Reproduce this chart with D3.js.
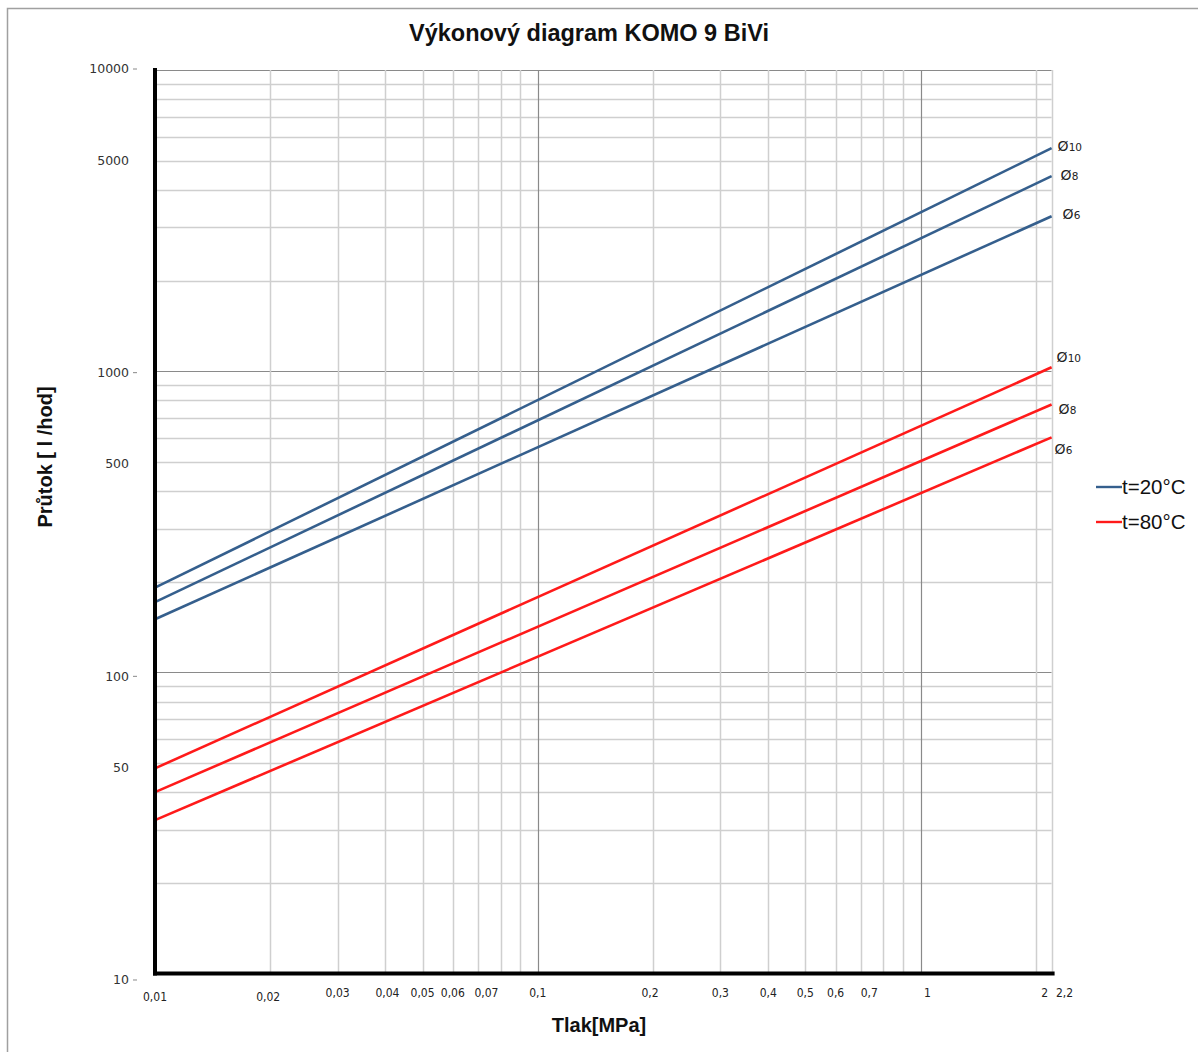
<!DOCTYPE html>
<html>
<head>
<meta charset="utf-8">
<script src="https://cdn.jsdelivr.net/npm/d3@7/dist/d3.min.js"></script>
<style>
    html, body { margin: 0; padding: 0; background: #fff; }
    svg { display: block; }
</style>
</head>
<body>
<div id="chart"></div>
<script>
'use strict';

// pressure [MPa] at the two ends of each line
const pressure = [0.01, 2.2];

// flow [l/hod]
const series = [
    {name: '10', group: 't20', values: [191, 5500]},
    {name: '8',  group: 't20', values: [171, 4440]},
    {name: '6',  group: 't20', values: [150, 3270]},
    {name: '10', group: 't80', values: [48, 1030]},
    {name: '8',  group: 't80', values: [40, 775]},
    {name: '6',  group: 't80', values: [32.3, 603]}
];

const legendItems = [
    {group: 't20', label: 't=20°C'},
    {group: 't80', label: 't=80°C'}
];

const xTickValues = [0.01, 0.02, 0.03, 0.04, 0.05, 0.06, 0.07, 0.1, 0.2, 0.3, 0.4, 0.5, 0.6, 0.7, 1, 2, 2.2];
const xGridValues = [0.02, 0.03, 0.04, 0.05, 0.06, 0.07, 0.08, 0.09, 0.1,
    0.2, 0.3, 0.4, 0.5, 0.6, 0.7, 0.8, 0.9, 1, 2, 2.2];
const yTickValues = [10000, 5000, 1000, 500, 100, 50, 10];
const yMajorValues = [10000, 1000, 100, 10];

const colors = {t20: '#355f8d', t80: '#ff1a1a'};

const conf = {
    width: 1198,
    height: 1052,
    left: 155,
    right: 1051.6,
    top: 70,
    bottom: 973.5
};

// label nudges so the end labels sit where the original had them
const endLabelDy = [-2, -1, -2, -10, 4, 12];
const endLabelDx = [6, 9, 11, 5, 7, 3];
// the original puts a few x labels a bit right of their grid line
const xLabelDx = {0.02: -2, 0.04: 2, 0.07: 8, 0.2: -3, 0.7: 8, 1: 7, 2: 9, 2.2: 13};

function fmt(v) {
    return String(v).replace('.', ',');
}

function draw() {
    let svg = d3.select('#chart').append('svg')
        .attr('width', conf.width)
        .attr('height', conf.height);

    // outer frame of the chart area (only top and left are in view)
    svg.append('rect')
        .attr('x', 7.5).attr('y', 8.5)
        .attr('width', 1300).attr('height', 1200)
        .attr('fill', 'none')
        .attr('stroke', '#a0a0a0')
        .attr('stroke-width', 1.5);

    let x = d3.scaleLog().domain([0.01, 2.2]).range([conf.left, conf.right]);
    let y = d3.scaleLog().domain([10, 10000]).range([conf.bottom, conf.top]);

    let grid = svg.append('g');

    // horizontal grid: every integer multiple within each decade
    let yGrid = y.ticks().filter(function(v) { return v > 10; });
    grid.selectAll('.hgrid')
        .data(yGrid)
        .enter().append('line')
        .attr('x1', conf.left).attr('x2', conf.right)
        .attr('y1', function(d) { return Math.round(y(d)) + 0.5; })
        .attr('y2', function(d) { return Math.round(y(d)) + 0.5; })
        .attr('stroke', function(d) { return yMajorValues.indexOf(d) >= 0 ? '#8a8a8a' : '#cfcfcf'; })
        .attr('stroke-width', function(d) { return yMajorValues.indexOf(d) >= 0 ? 1.2 : 1.5; });

    grid.selectAll('.vgrid')
        .data(xGridValues)
        .enter().append('line')
        .attr('x1', function(d) { return Math.round(x(d)) + 0.5; })
        .attr('x2', function(d) { return Math.round(x(d)) + 0.5; })
        .attr('y1', conf.top).attr('y2', conf.bottom)
        .attr('stroke', function(d) { return (d === 0.1 || d === 1) ? '#8a8a8a' : '#cfcfcf'; })
        .attr('stroke-width', function(d) { return (d === 0.1 || d === 1) ? 1.2 : 1.5; });

    // series lines
    let line = d3.line()
        .x(function(d) { return x(d[0]); })
        .y(function(d) { return y(d[1]); });

    svg.append('g').selectAll('path')
        .data(series)
        .enter().append('path')
        .attr('d', function(s) { return line(d3.zip(pressure, s.values)); })
        .attr('fill', 'none')
        .attr('stroke', function(s) { return colors[s.group]; })
        .attr('stroke-width', 2.6);

    // end labels "Ø10", "Ø8", "Ø6"
    let endLabels = svg.append('g').selectAll('text')
        .data(series)
        .enter().append('text')
        .attr('x', function(s, i) { return x(pressure[1]) + endLabelDx[i]; })
        .attr('y', function(s, i) { return y(s.values[1]) + endLabelDy[i] + 5; })
        .attr('font-family', 'DejaVu Sans, sans-serif')
        .attr('fill', '#222');
    endLabels.append('tspan').attr('font-size', 14).text('Ø');
    endLabels.append('tspan').attr('font-size', 10.5).text(function(s) { return s.name; });

    // axes
    svg.append('line')
        .attr('x1', conf.left).attr('x2', conf.left)
        .attr('y1', conf.top - 2).attr('y2', conf.bottom + 2)
        .attr('stroke', '#000').attr('stroke-width', 4);
    svg.append('line')
        .attr('x1', conf.left - 2).attr('x2', conf.right + 3)
        .attr('y1', conf.bottom).attr('y2', conf.bottom)
        .attr('stroke', '#000').attr('stroke-width', 4);

    // y tick labels; in the original they drift down a little towards the bottom
    function yLabelPos(d) {
        return y(d) - 1 + (y(d) - conf.top) * 0.0083;
    }
    let yLabels = svg.append('g');
    yLabels.selectAll('text')
        .data(yTickValues)
        .enter().append('text')
        .attr('x', 129)
        .attr('y', yLabelPos)
        .attr('dy', '0.35em')
        .attr('text-anchor', 'end')
        .attr('font-family', 'DejaVu Sans, sans-serif')
        .attr('font-size', 12.5)
        .attr('fill', '#333')
        .text(function(d) { return d; });
    yLabels.selectAll('line')
        .data(yMajorValues)
        .enter().append('line')
        .attr('x1', 133).attr('x2', 137)
        .attr('y1', yLabelPos)
        .attr('y2', yLabelPos)
        .attr('stroke', '#888').attr('stroke-width', 1);

    // x tick labels
    svg.append('g').selectAll('text')
        .data(xTickValues)
        .enter().append('text')
        .attr('x', function(d) { return x(d) + (xLabelDx[d] || 0); })
        .attr('y', function(d) { return d < 0.025 ? 1001 : 997; })
        .attr('text-anchor', 'middle')
        .attr('font-family', 'DejaVu Sans Condensed, DejaVu Sans, sans-serif')
        .attr('font-size', 12)
        .attr('fill', '#222')
        .text(fmt);

    // titles
    svg.append('text')
        .attr('x', 589).attr('y', 41)
        .attr('text-anchor', 'middle')
        .attr('font-family', 'Liberation Sans, Arial, sans-serif')
        .attr('font-weight', 'bold')
        .attr('font-size', 23.5)
        .attr('fill', '#111')
        .text('Výkonový diagram KOMO 9 BiVi');

    svg.append('text')
        .attr('x', 599).attr('y', 1032)
        .attr('text-anchor', 'middle')
        .attr('font-family', 'Liberation Sans, Arial, sans-serif')
        .attr('font-weight', 'bold')
        .attr('font-size', 20)
        .attr('fill', '#111')
        .text('Tlak[MPa]');

    svg.append('text')
        .attr('transform', 'translate(52,457) rotate(-90)')
        .attr('text-anchor', 'middle')
        .attr('font-family', 'Liberation Sans, Arial, sans-serif')
        .attr('font-weight', 'bold')
        .attr('font-size', 20)
        .attr('fill', '#111')
        .text('Průtok [ l /hod]');

    // legend
    let legend = svg.append('g').selectAll('g')
        .data(legendItems)
        .enter().append('g')
        .attr('transform', function(d, i) { return 'translate(1096,' + (487 + i * 35) + ')'; });
    legend.append('line')
        .attr('x1', 0).attr('x2', 26)
        .attr('stroke', function(d) { return colors[d.group]; })
        .attr('stroke-width', 2.4);
    legend.append('text')
        .attr('x', 26).attr('y', 7)
        .attr('font-family', 'Liberation Sans, Arial, sans-serif')
        .attr('font-size', 20.5)
        .attr('fill', '#111')
        .text(function(d) { return d.label; });
}

draw();
</script>
</body>
</html>
